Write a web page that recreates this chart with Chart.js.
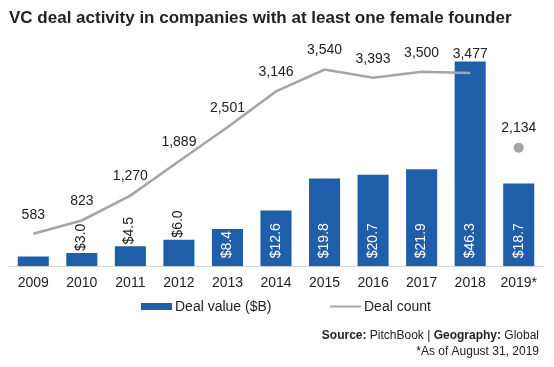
<!DOCTYPE html>
<html>
<head>
<meta charset="utf-8">
<script src="https://cdn.jsdelivr.net/npm/chart.js@4.4.1/dist/chart.umd.min.js"></script>
<style>
  html, body { margin: 0; padding: 0; background: #fff; }
  #wrap { width: 554px; height: 367px; position: relative; }
</style>
</head>
<body>
<div id="wrap"><canvas id="vc_chart"></canvas></div>
<script>
var years = ["2009", "2010", "2011", "2012", "2013", "2014", "2015", "2016", "2017", "2018", "2019*"];
var dealValue = [2.2, 3.0, 4.5, 6.0, 8.4, 12.6, 19.8, 20.7, 21.9, 46.3, 18.7];
var dealCount = [583, 823, 1270, 1889, 2501, 3146, 3540, 3393, 3500, 3477, null];
var partialCount = [null, null, null, null, null, null, null, null, null, null, 2134];

var BLUE = '#1f5ea8';
var GREY = '#a2a5a9';
var FONT = '"Liberation Sans", Arial, sans-serif';

// value labels on bars and line points, plus legend and source notes
var labelsPlugin = {
    id: 'labels',
    afterDatasetsDraw: function (chart) {
        var ctx = chart.ctx;
        ctx.save();

        var bars = chart.getDatasetMeta(2).data;
        ctx.font = '14px ' + FONT;
        ctx.textBaseline = 'middle';
        bars.forEach(function (bar, i) {
            if (i === 0) return;
            var txt = '$' + dealValue[i].toFixed(1);
            ctx.save();
            if (i <= 3) {
                ctx.translate(bar.x - 1, bar.y - 2);
                ctx.fillStyle = '#222';
            } else {
                ctx.translate(bar.x, bar.base - 8);
                ctx.fillStyle = '#fff';
            }
            ctx.rotate(-Math.PI / 2);
            ctx.textAlign = 'left';
            ctx.fillText(txt, 0, 0);
            ctx.restore();
        });

        ctx.fillStyle = '#222';
        ctx.textAlign = 'center';
        [0, 1].forEach(function (di) {
            var src = di === 0 ? dealCount : partialCount;
            chart.getDatasetMeta(di).data.forEach(function (pt, i) {
                if (src[i] == null) return;
                ctx.fillText(src[i].toLocaleString('en-US'), pt.x, pt.y - 19);
            });
        });
        ctx.restore();
    },
    afterDraw: function (chart) {
        var ctx = chart.ctx;
        ctx.save();
        ctx.textBaseline = 'middle';

        // legend
        ctx.fillStyle = BLUE;
        ctx.fillRect(141, 303, 31, 7);
        ctx.fillStyle = '#222';
        ctx.font = '14px ' + FONT;
        ctx.textAlign = 'left';
        ctx.fillText('Deal value ($B)', 175, 307);
        ctx.strokeStyle = GREY;
        ctx.lineWidth = 2;
        ctx.beginPath();
        ctx.moveTo(330, 306.5);
        ctx.lineTo(361, 306.5);
        ctx.stroke();
        ctx.fillText('Deal count', 364, 307);

        // source
        var right = 539;
        var parts = [['Source:', true], [' PitchBook | ', false], ['Geography:', true], [' Global', false]];
        var w = 0;
        parts.forEach(function (p) {
            ctx.font = (p[1] ? 'bold ' : '') + '12px ' + FONT;
            p.push(ctx.measureText(p[0]).width);
            w += p[2];
        });
        var x = right - w;
        parts.forEach(function (p) {
            ctx.font = (p[1] ? 'bold ' : '') + '12px ' + FONT;
            ctx.fillText(p[0], x, 336);
            x += p[2];
        });
        ctx.font = '12px ' + FONT;
        ctx.textAlign = 'right';
        ctx.fillText('*As of August 31, 2019', right, 352);
        ctx.restore();
    }
};

new Chart(document.getElementById('vc_chart').getContext('2d'), {
    type: 'bar',
    data: {
        labels: years,
        datasets: [{
            type: 'line',
            label: 'Deal count',
            data: dealCount,
            yAxisID: 'y1',
            borderColor: GREY,
            borderWidth: 2.5,
            pointRadius: 0,
            tension: 0,
            spanGaps: false,
            order: 0
        }, {
            type: 'line',
            label: 'Deal count 2019',
            data: partialCount,
            yAxisID: 'y1',
            showLine: false,
            pointRadius: 5,
            pointBackgroundColor: GREY,
            pointBorderColor: GREY,
            pointBorderWidth: 0,
            order: 0
        }, {
            label: 'Deal value ($B)',
            data: dealValue,
            yAxisID: 'y',
            backgroundColor: BLUE,
            categoryPercentage: 1,
            barPercentage: 0.64,
            order: 1
        }]
    },
    options: {
        responsive: true,
        maintainAspectRatio: false,
        animation: false,
        layout: { padding: { left: 9, right: 11, top: 0, bottom: 66 } },
        plugins: {
            legend: { display: false },
            tooltip: { enabled: false },
            title: {
                display: true,
                align: 'start',
                text: 'VC deal activity in companies with at least one female founder',
                color: '#222',
                font: { family: FONT, size: 17, weight: 'bold' },
                padding: { top: 8, bottom: 10 }
            }
        },
        scales: {
            x: {
                grid: { display: false, drawTicks: false },
                border: { color: '#d4d4d4', width: 1 },
                ticks: { color: '#222', font: { family: FONT, size: 14 }, padding: 9 }
            },
            y: { display: false, min: 0, max: 51.5 },
            y1: { display: false, min: 0, max: 4100 }
        }
    },
    plugins: [labelsPlugin]
});
</script>
</body>
</html>
